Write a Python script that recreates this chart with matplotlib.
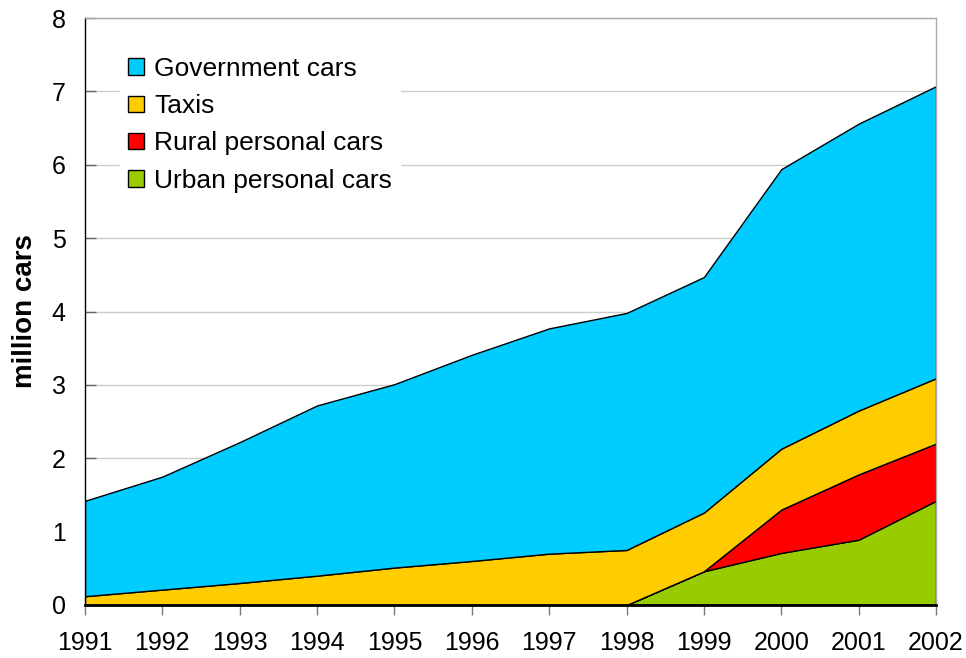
import matplotlib
matplotlib.use("Agg")
import matplotlib.pyplot as plt
from matplotlib.patches import Patch
import numpy as np

years = [1991, 1992, 1993, 1994, 1995, 1996, 1997, 1998, 1999, 2000, 2001, 2002]
urban = [0, 0, 0, 0, 0, 0, 0, 0, 0.46, 0.71, 0.89, 1.42]
rural = [0, 0, 0, 0, 0, 0, 0, 0, 0, 0.59, 0.89, 0.78]
taxis = [0.12, 0.21, 0.30, 0.40, 0.51, 0.60, 0.70, 0.75, 0.80, 0.83, 0.87, 0.89]
government = [1.30, 1.54, 1.92, 2.32, 2.50, 2.81, 3.07, 3.23, 3.21, 3.81, 3.91, 3.98]

series_names = ["Urban personal cars", "Rural personal cars", "Taxis", "Government cars"]
colors = ["#99cc00", "#ff0000", "#ffcc00", "#00ccff"]

plt.rcParams['font.family'] = ['Liberation Sans', 'DejaVu Sans']

fig = plt.figure(figsize=(9.66, 6.58), dpi=100)
ax = fig.add_axes([85/966, 1-605/658, (936-85)/966, (605-18)/658])

ax.stackplot(years, urban, rural, taxis, government, colors=colors,
             edgecolor="black", linewidth=1.0, zorder=2)

ax.set_xlim(1991, 2002)
ax.set_ylim(0, 8)
ax.set_xticks(years)
ax.set_xticklabels([str(y) for y in years])
ax.set_yticks(range(0, 9))
ax.yaxis.grid(True, color="#cccccc", linewidth=1.0, zorder=0)
ax.set_axisbelow(True)

ax.tick_params(axis='x', direction='out', length=7, width=1, color="#777777",
               labelsize=18, pad=12)
ax.tick_params(axis='y', direction='in', length=8, width=1, color="#666666",
               labelsize=18, pad=14)

for s in ['left', 'bottom']:
    ax.spines[s].set_color('black')
    ax.spines[s].set_linewidth(1.0)
for s in ['top', 'right']:
    ax.spines[s].set_color('#aaaaaa')
    ax.spines[s].set_linewidth(1.0)
ax.spines['bottom'].set_linewidth(2.0)
ax.spines['bottom'].set_zorder(5)

ax.set_ylabel("million cars", fontsize=20, fontweight='bold', labelpad=10)

handles = [Patch(facecolor=colors[i], edgecolor='black', linewidth=1.0) for i in [3, 2, 1, 0]]
labels = [series_names[i] for i in [3, 2, 1, 0]]
leg = ax.legend(handles, labels, loc='upper left', bbox_to_anchor=(0.041, 0.947),
                fontsize=19, frameon=True, fancybox=False, framealpha=1,
                facecolor='white', edgecolor='white', handlelength=0.6,
                handleheight=0.6, handletextpad=0.4, labelspacing=0.5,
                borderpad=0.3, borderaxespad=0)
leg.set_zorder(3)

fig.savefig("out.png", dpi=100)
